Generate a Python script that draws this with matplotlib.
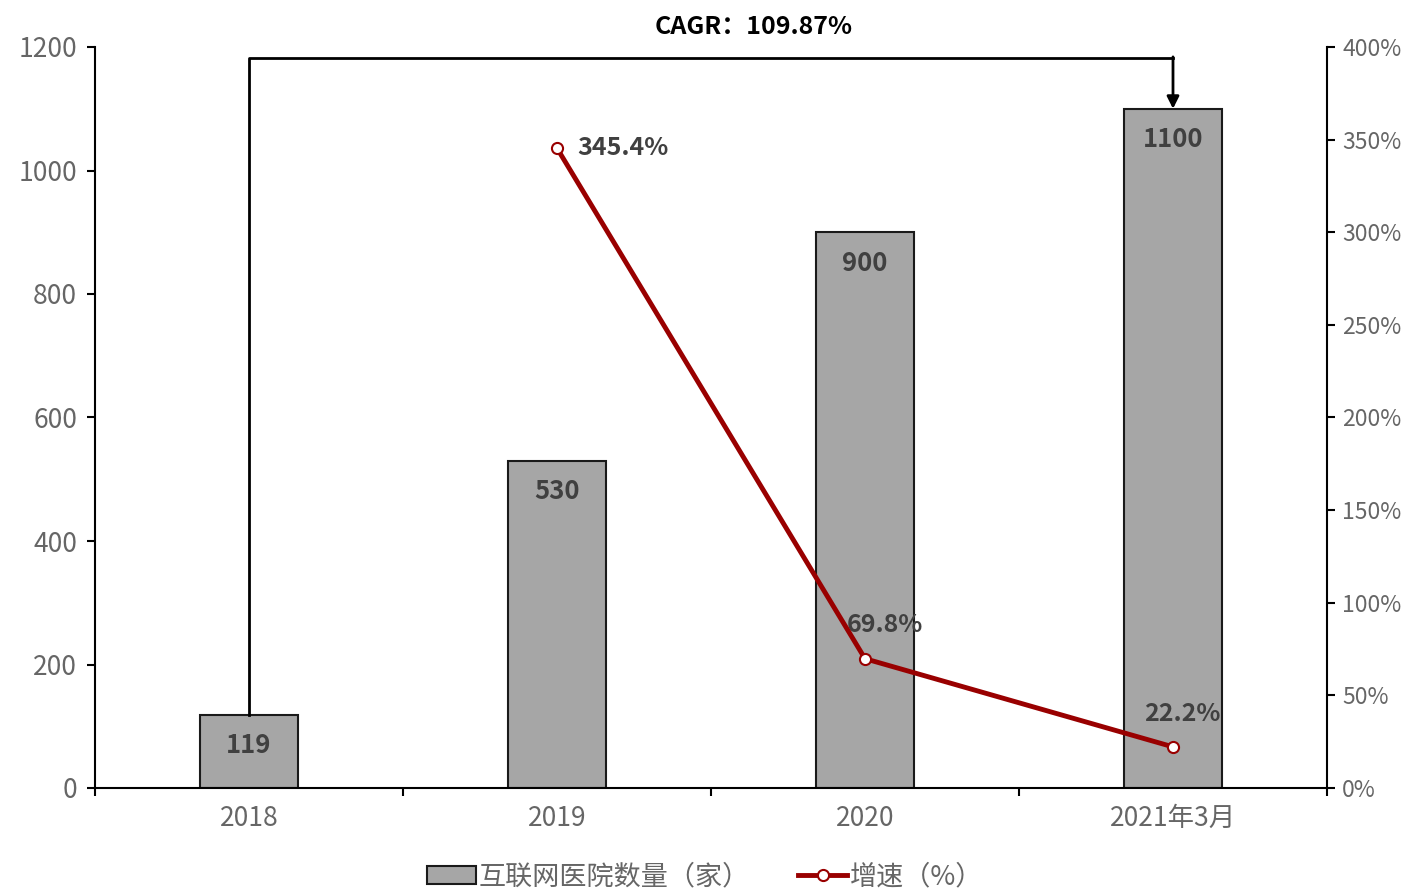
import numpy as np
import matplotlib
matplotlib.use("Agg")
import matplotlib.pyplot as plt

plt.rcParams['font.family'] = ['Noto Sans CJK SC', 'DejaVu Sans']

# data
categories = ["2018", "2019", "2020", "2021年3月"]
hospitals = [119, 530, 900, 1100]
growth = [None, 345.4, 69.8, 22.2]
growth_labels = ["", "345.4%", "69.8%", "22.2%"]
cagr_text = "CAGR：109.87%"

gray_txt = "#666666"
lab_txt = "#404040"
red = "#990000"

fig = plt.figure(figsize=(14.1, 8.91), dpi=100)
ax = fig.add_axes([95/1410, 1 - 788/891, (1327 - 95)/1410, (788 - 47)/891])
x = np.arange(len(categories))

ax.bar(x, hospitals, width=0.315, color="#a6a6a6", edgecolor="#1a1a1a", linewidth=1.5, zorder=2,
       label="互联网医院数量（家）")
for xi, v in zip(x, hospitals):
    ax.text(xi, v - 28, str(v), ha="center", va="top", fontsize=18.5, fontweight="bold", color=lab_txt, zorder=5)

ax.set_xlim(-0.5, 3.5)
ax.set_ylim(0, 1200)
ax.set_yticks(range(0, 1201, 200))
ax.set_xticks(x)
ax.set_xticklabels(categories)
ax.set_xticks(np.arange(-0.5, 3.6, 1), minor=True)
ax.tick_params(axis="x", which="major", length=0, pad=12, labelsize=19, labelcolor=gray_txt)
ax.tick_params(axis="x", which="minor", length=6, width=1.5, direction="out")
ax.tick_params(axis="y", length=6, width=1.5, direction="out", labelsize=19, labelcolor=gray_txt, pad=7)
ax.spines["top"].set_visible(False)
ax.spines["right"].set_visible(False)
for s in ["left", "bottom"]:
    ax.spines[s].set_linewidth(1.5)

# CAGR bracket
top_y = 1182
ax.plot([x[0], x[0], x[3]], [hospitals[0], top_y, top_y], color="black", lw=2, zorder=3, clip_on=False)
ax.annotate("", xy=(x[3], hospitals[3]), xytext=(x[3], top_y + 2),
            arrowprops=dict(arrowstyle="-|>", color="black", lw=2, mutation_scale=18, shrinkA=0, shrinkB=0),
            zorder=3)
ax.text(1.64, 1233, cagr_text, ha="center", va="center", fontsize=18, fontweight="bold", color="black")

# growth line
ax2 = ax.twinx()
gx = x[1:]
gy = growth[1:]
ax2.plot(gx, gy, color=red, lw=3.5, marker="o", markersize=8, markerfacecolor="white",
         markeredgecolor=red, markeredgewidth=1.5, zorder=4, label="增速（%）")
ax2.set_ylim(0, 400)
ax2.set_yticks(range(0, 401, 50))
ax2.set_yticklabels([f"{v}%" for v in range(0, 401, 50)])
ax2.tick_params(axis="y", length=6, width=1.5, direction="out", labelsize=16.5, labelcolor=gray_txt, pad=5)
for s in ["top", "left", "bottom"]:
    ax2.spines[s].set_visible(False)
ax2.spines["right"].set_linewidth(1.5)

ax2.text(gx[0] + 0.065, gy[0], growth_labels[1], ha="left", va="center", fontsize=18, fontweight="bold", color=lab_txt)
ax2.text(gx[1] + 0.065, gy[1] + 18, growth_labels[2], ha="center", va="center", fontsize=18, fontweight="bold", color=lab_txt)
ax2.text(gx[2] + 0.03, gy[2] + 18, growth_labels[3], ha="center", va="center", fontsize=18, fontweight="bold", color=lab_txt)

h1, l1 = ax.get_legend_handles_labels()
h2, l2 = ax2.get_legend_handles_labels()
leg = fig.legend(h1 + h2, l1 + l2, loc="center", bbox_to_anchor=(0.5, 1 - 877/891), ncol=2, frameon=False,
                 fontsize=19.5, handlelength=1.8, handleheight=0.6, handletextpad=0.1, columnspacing=1.8)
for t in leg.get_texts():
    t.set_color(gray_txt)

fig.savefig("out.png", dpi=100)
